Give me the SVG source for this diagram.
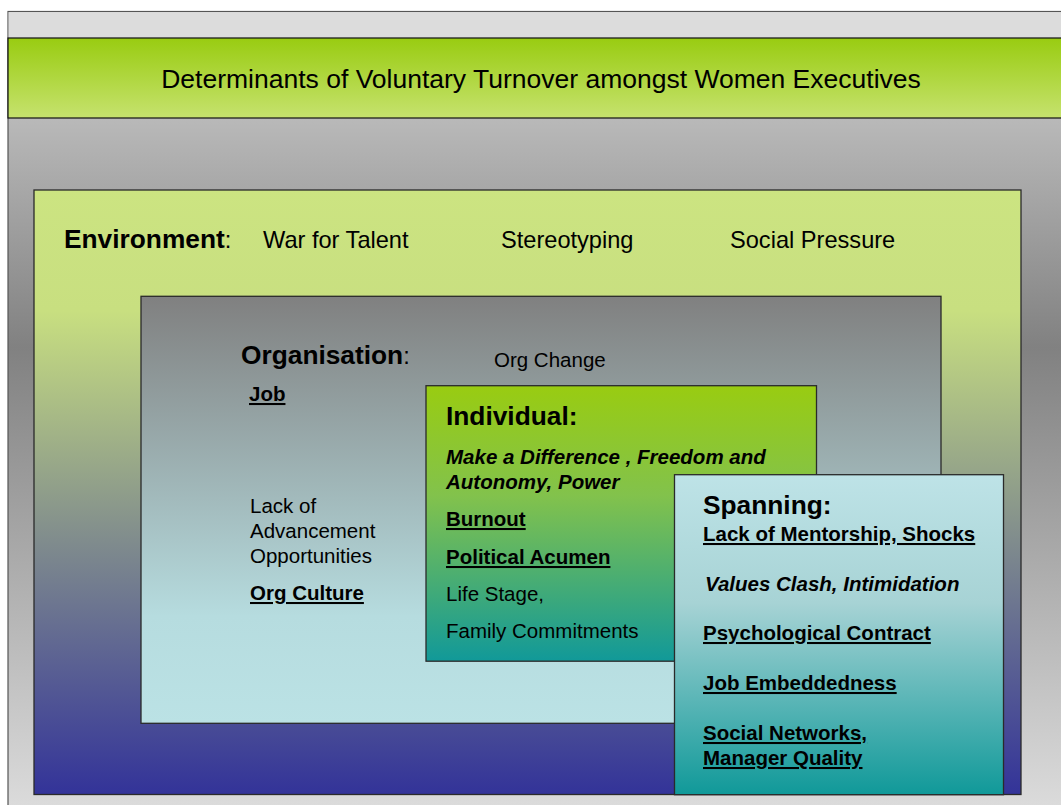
<svg xmlns="http://www.w3.org/2000/svg" width="1061" height="805" viewBox="0 0 1061 805">
<defs>
<linearGradient id="gBg" x1="0" y1="0" x2="0" y2="1">
<stop offset="0" stop-color="#d3d3d3"/>
<stop offset="0.42" stop-color="#818181"/>
<stop offset="1" stop-color="#dcdcdc"/>
</linearGradient>
<linearGradient id="gTitle" x1="0" y1="0" x2="0" y2="1">
<stop offset="0" stop-color="#99cc11"/>
<stop offset="1" stop-color="#c6e26e"/>
</linearGradient>
<linearGradient id="gEnv" x1="0" y1="0" x2="0" y2="1">
<stop offset="0" stop-color="#cce481"/>
<stop offset="0.2" stop-color="#c8df80"/>
<stop offset="0.58" stop-color="#808c8d"/>
<stop offset="1" stop-color="#333399"/>
</linearGradient>
<linearGradient id="gOrg" x1="0" y1="0" x2="0" y2="1">
<stop offset="0" stop-color="#808080"/>
<stop offset="0.75" stop-color="#b6dcdf"/>
<stop offset="1" stop-color="#bbe2e5"/>
</linearGradient>
<linearGradient id="gInd" x1="0" y1="0" x2="0" y2="1">
<stop offset="0" stop-color="#99cc11"/>
<stop offset="0.4" stop-color="#82c24c"/>
<stop offset="1" stop-color="#119999"/>
</linearGradient>
<linearGradient id="gSpan" x1="0" y1="0" x2="0" y2="1">
<stop offset="0" stop-color="#bee3e7"/>
<stop offset="0.4" stop-color="#a7d3d5"/>
<stop offset="1" stop-color="#109999"/>
</linearGradient>
</defs>
<style>
text { font-family: "Liberation Sans", Arial, sans-serif; fill: #000; }
.box { stroke: #2a2a2a; stroke-width: 1.3; }
.head { font-size: 26.3px; font-weight: bold; }
.env { font-size: 23.6px; }
.item { font-size: 20.5px; }
.b { font-weight: bold; }
.u { text-decoration: underline; }
.i { font-style: italic; }
</style>
<g id="background">
<rect x="8" y="11.5" width="1060" height="800" fill="url(#gBg)" stroke="#555" stroke-width="1.2"/>
<rect x="8.6" y="12.1" width="1060" height="26" fill="#dcdcdc"/>
</g>
<g id="title">
<rect x="8" y="38" width="1060" height="80" fill="url(#gTitle)" stroke="#111" stroke-width="1.2"/>
<text x="541" y="88" text-anchor="middle" font-size="26.5">Determinants of Voluntary Turnover amongst Women Executives</text>
</g>
<g id="environment">
<rect class="box" x="34" y="190" width="987" height="604.5" fill="url(#gEnv)"/>
<text x="64" y="248"><tspan class="head">Environment</tspan><tspan class="env">:</tspan></text>
<text class="env" x="263" y="248">War for Talent</text>
<text class="env" x="501" y="248">Stereotyping</text>
<text class="env" x="730" y="248">Social Pressure</text>
</g>
<g id="organisation">
<rect class="box" x="141" y="296.3" width="800" height="427" fill="url(#gOrg)"/>
<text x="241" y="364"><tspan class="head">Organisation</tspan><tspan class="env">:</tspan></text>
<text class="item" x="494" y="367">Org Change</text>
<text class="item b u" x="249" y="401">Job</text>
<text class="item" x="250" y="513">Lack of</text>
<text class="item" x="250" y="538">Advancement</text>
<text class="item" x="250" y="563">Opportunities</text>
<text class="item b u" x="250" y="600">Org Culture</text>
</g>
<g id="individual">
<rect class="box" x="426" y="385.7" width="390.5" height="275.5" fill="url(#gInd)"/>
<text class="head" x="446" y="425">Individual:</text>
<text class="item b i" x="446" y="464">Make a Difference , Freedom and</text>
<text class="item b i" x="446" y="489">Autonomy, Power</text>
<text class="item b u" x="446" y="526">Burnout</text>
<text class="item b u" x="446" y="564">Political Acumen</text>
<text class="item" x="446" y="601">Life Stage,</text>
<text class="item" x="446" y="638">Family Commitments</text>
</g>
<g id="spanning">
<rect class="box" x="674.5" y="474.7" width="329" height="320" fill="url(#gSpan)"/>
<text class="head" x="703" y="514">Spanning:</text>
<text class="item b u" x="703" y="541">Lack of Mentorship, Shocks</text>
<text class="item b i" x="705" y="591">Values Clash, Intimidation</text>
<text class="item b u" x="703" y="640">Psychological Contract</text>
<text class="item b u" x="703" y="690">Job Embeddedness</text>
<text class="item b u" x="703" y="740">Social Networks,</text>
<text class="item b u" x="703" y="765">Manager Quality</text>
</g>
</svg>
